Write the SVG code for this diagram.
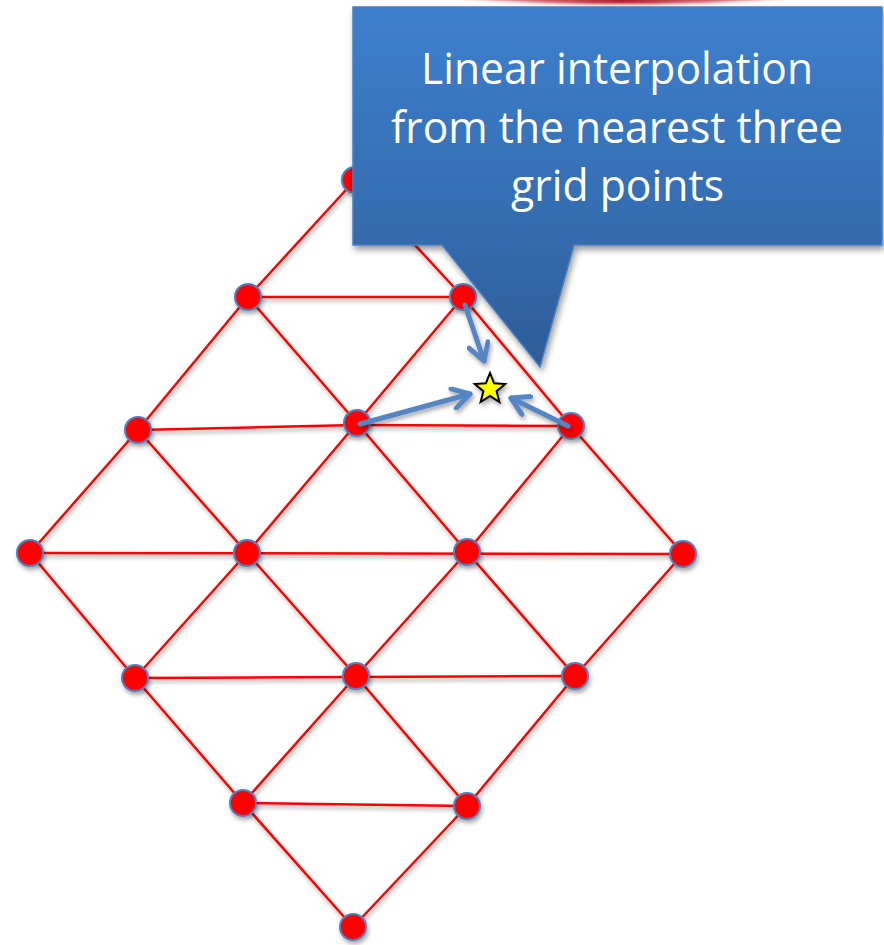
<svg xmlns="http://www.w3.org/2000/svg" width="884" height="945" viewBox="0 0 884 945">
<defs>
<style>
.edge{stroke:#ff0000;stroke-width:2.5;fill:none}
.node{fill:#ff0000;stroke:#4f81bd;stroke-width:2}
.arr{stroke:#5585c3;stroke-width:5;fill:none;stroke-linecap:round}
.lbl{font-family:"Open Sans","Noto Sans",sans-serif;font-size:43px;fill:#ffffff;text-anchor:middle}
</style>
<filter id="sh" x="-20%" y="-20%" width="150%" height="150%">
<feDropShadow dx="1.5" dy="3" stdDeviation="2" flood-color="#000" flood-opacity="0.35"/>
</filter>
<filter id="shb" x="-10%" y="-10%" width="130%" height="130%">
<feDropShadow dx="2" dy="4" stdDeviation="3" flood-color="#000" flood-opacity="0.4"/>
</filter>
<filter id="blur" x="-10%" y="-50%" width="120%" height="200%">
<feGaussianBlur stdDeviation="1.5"/>
</filter>
<linearGradient id="bg" x1="0" y1="0" x2="0" y2="1">
<stop offset="0" stop-color="#3d7fcd"/>
<stop offset="0.6" stop-color="#356cb0"/>
<stop offset="1" stop-color="#2d5c98"/>
</linearGradient>
<linearGradient id="rg" x1="0" y1="0" x2="1" y2="0">
<stop offset="0.25" stop-color="#e8a0a8"/>
<stop offset="0.5" stop-color="#b01e2a"/>
<stop offset="0.75" stop-color="#e8a0a8"/>
</linearGradient>
<marker id="chev" viewBox="-20 -12 24 24" markerWidth="24" markerHeight="24" refX="0" refY="0" orient="auto" markerUnits="userSpaceOnUse">
<path d="M-17,-10 L0,0 L-17,10" fill="none" stroke="#5585c3" stroke-width="5" stroke-linecap="round" stroke-linejoin="round"/>
</marker>
</defs>
<rect width="884" height="945" fill="#ffffff"/>
<ellipse cx="622" cy="-40" rx="330" ry="44" fill="url(#rg)" filter="url(#blur)"/>
<g id="connectors" filter="url(#sh)">
<line class="edge" x1="355" y1="180" x2="248" y2="297"/>
<line class="edge" x1="355" y1="180" x2="463" y2="297"/>
<line class="edge" x1="248" y1="297" x2="463" y2="297"/>
<line class="edge" x1="248" y1="297" x2="138" y2="430"/>
<line class="edge" x1="248" y1="297" x2="357" y2="423"/>
<line class="edge" x1="463" y1="297" x2="357" y2="423"/>
<line class="edge" x1="463" y1="297" x2="571" y2="426"/>
<line class="edge" x1="138" y1="430" x2="357" y2="425"/>
<line class="edge" x1="357" y1="425" x2="571" y2="426"/>
<line class="edge" x1="138" y1="430" x2="30" y2="553"/>
<line class="edge" x1="138" y1="430" x2="247" y2="553"/>
<line class="edge" x1="357" y1="423" x2="247" y2="553"/>
<line class="edge" x1="357" y1="423" x2="467" y2="552"/>
<line class="edge" x1="571" y1="426" x2="467" y2="552"/>
<line class="edge" x1="571" y1="426" x2="683" y2="554"/>
<line class="edge" x1="30" y1="553" x2="683" y2="554"/>
<line class="edge" x1="30" y1="553" x2="135" y2="678"/>
<line class="edge" x1="247" y1="553" x2="135" y2="678"/>
<line class="edge" x1="247" y1="553" x2="356" y2="676"/>
<line class="edge" x1="467" y1="552" x2="356" y2="676"/>
<line class="edge" x1="467" y1="552" x2="575" y2="676"/>
<line class="edge" x1="683" y1="554" x2="575" y2="676"/>
<line class="edge" x1="135" y1="678" x2="575" y2="676"/>
<line class="edge" x1="135" y1="678" x2="243" y2="803"/>
<line class="edge" x1="356" y1="676" x2="243" y2="803"/>
<line class="edge" x1="356" y1="676" x2="467" y2="806"/>
<line class="edge" x1="575" y1="676" x2="467" y2="806"/>
<line class="edge" x1="243" y1="803" x2="467" y2="806"/>
<line class="edge" x1="243" y1="803" x2="353" y2="927"/>
<line class="edge" x1="467" y1="806" x2="353" y2="927"/>
</g>
<g id="nodes" filter="url(#sh)">
<g id="n0"><circle class="node" cx="355" cy="180" r="13"/></g>
<g id="n1"><circle class="node" cx="248" cy="297" r="13"/></g>
<g id="n2"><circle class="node" cx="463" cy="297" r="13"/></g>
<g id="n3"><circle class="node" cx="138" cy="430" r="13"/></g>
<g id="n4"><circle class="node" cx="357" cy="423" r="13"/></g>
<g id="n5"><circle class="node" cx="571" cy="426" r="13"/></g>
<g id="n6"><circle class="node" cx="30" cy="553" r="13"/></g>
<g id="n7"><circle class="node" cx="247" cy="553" r="13"/></g>
<g id="n8"><circle class="node" cx="467" cy="552" r="13"/></g>
<g id="n9"><circle class="node" cx="683" cy="554" r="13"/></g>
<g id="n10"><circle class="node" cx="135" cy="678" r="13"/></g>
<g id="n11"><circle class="node" cx="356" cy="676" r="13"/></g>
<g id="n12"><circle class="node" cx="575" cy="676" r="13"/></g>
<g id="n13"><circle class="node" cx="243" cy="803" r="13"/></g>
<g id="n14"><circle class="node" cx="467" cy="806" r="13"/></g>
<g id="n15"><circle class="node" cx="353" cy="927" r="13"/></g>
</g>
<g id="callout">
<path d="M353,7 L882,7 L882,245 L574,245 L540,367 L442,245 L353,245 Z" fill="url(#bg)" stroke="#4a7fc0" stroke-width="1.5" filter="url(#shb)"/>
<text class="lbl" x="617" y="84" textLength="392" lengthAdjust="spacingAndGlyphs">Linear interpolation</text>
<text class="lbl" x="617" y="143" textLength="452" lengthAdjust="spacingAndGlyphs">from the nearest three</text>
<text class="lbl" x="617.5" y="201" textLength="213" lengthAdjust="spacingAndGlyphs">grid points</text>
</g>
<g id="arrows" filter="url(#sh)">
<line class="arr" x1="465" y1="305" x2="484" y2="361" marker-end="url(#chev)"/>
<line class="arr" x1="360" y1="424" x2="470" y2="394" marker-end="url(#chev)"/>
<line class="arr" x1="568" y1="426" x2="511" y2="398" marker-end="url(#chev)"/>
</g>
<g id="star">
<polygon points="490,373 494.1,383.3 505.2,384.1 496.6,391.2 499.4,402.0 490,396 480.6,402.0 483.4,391.2 474.8,384.1 485.9,383.3" fill="#ffff00" stroke="#000000" stroke-width="2" stroke-linejoin="miter" filter="url(#sh)"/>
</g>
</svg>
